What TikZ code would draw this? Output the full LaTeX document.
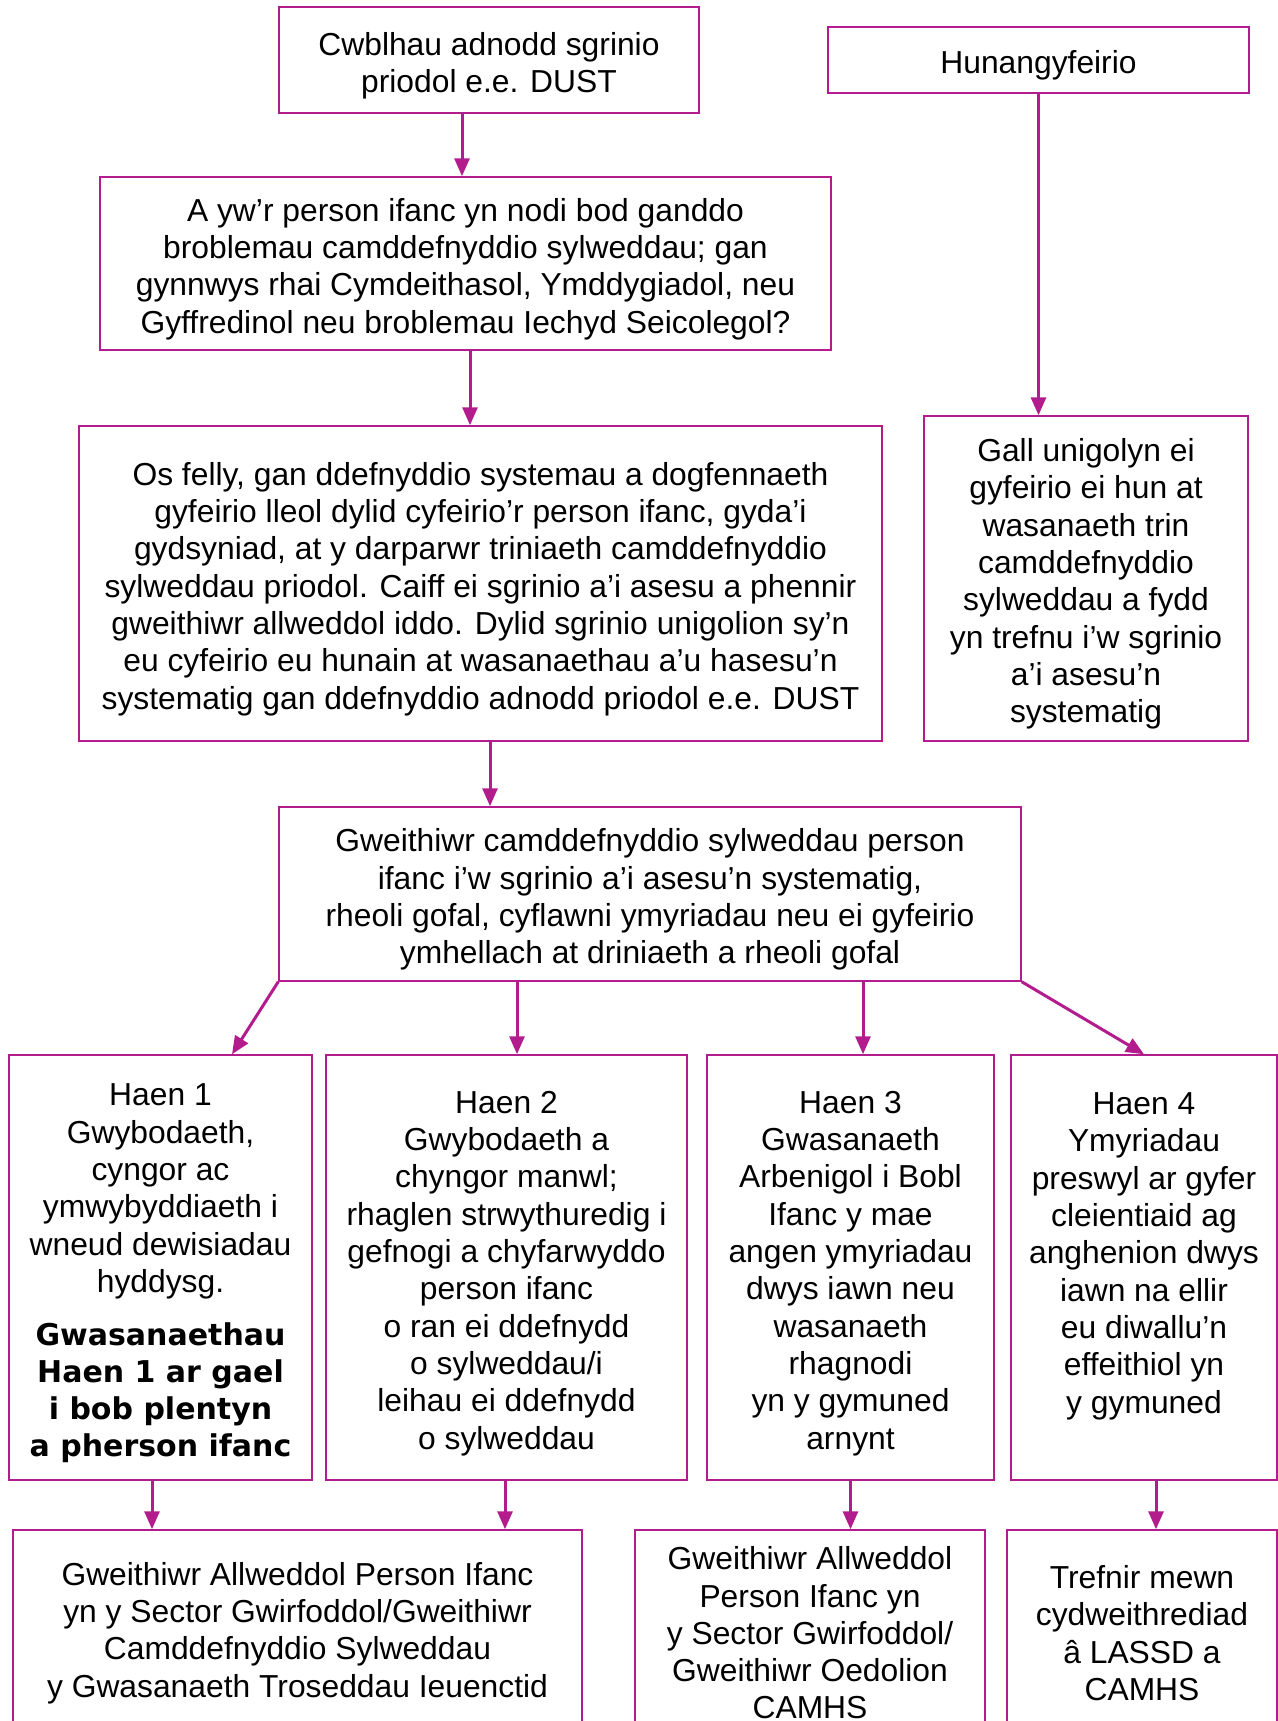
\documentclass[tikz,border=0pt]{standalone}
\usepackage{fontspec}
\setmainfont{Liberation Sans}
\newfontfamily\heavyfont{DejaVu Sans}
\newcommand{\heavy}[1]{{\heavyfont\bfseries\fontsize{15}{18.65}\selectfont #1}}
\newcommand{\topstrut}[1][17pt]{\rule{0pt}{#1}}
\usetikzlibrary{arrows.meta}

\definecolor{haenpink}{RGB}{178,28,140}

\tikzset{
  box/.style={draw=haenpink, line width=.75pt, align=center, inner sep=0pt,
    font=\fontsize{15.9}{18.65}\selectfont},
  arr/.style={draw=haenpink, line width=1.5pt, -{Triangle[length=9pt,width=7.5pt]}}
}

\begin{document}
\begin{tikzpicture}[x=.5pt,y=-.5pt]

\useasboundingbox (0,0) rectangle (1278,1721);
\clip (0,0) rectangle (1278,1721);

% top row
\node[box, minimum width=210pt, minimum height=53pt] (cwbl) at (489,60)
  {\topstrut Cwblhau adnodd sgrinio\\ priodol e.e. DUST};
\node[box, minimum width=210.5pt, minimum height=33pt] (hunan) at (1038.5,60)
  {\topstrut Hunangyfeirio};

% question
\node[box, minimum width=365.5pt, minimum height=86.5pt] (ayw) at (465.5,263.5)
  {\topstrut A yw’r person ifanc yn nodi bod ganddo\\ broblemau camddefnyddio sylweddau; gan\\
   gynnwys rhai Cymdeithasol, Ymddygiadol, neu\\ Gyffredinol neu broblemau Iechyd Seicolegol?};

% referral
\node[box, minimum width=401.5pt, minimum height=157.5pt] (osfelly) at (480.5,583.5)
  {\topstrut Os felly, gan ddefnyddio systemau a dogfennaeth\\ gyfeirio lleol dylid cyfeirio’r person ifanc, gyda’i\\
   gydsyniad, at y darparwr triniaeth camddefnyddio\\ sylweddau priodol. Caiff ei sgrinio a’i asesu a phennir\\
   gweithiwr allweddol iddo. Dylid sgrinio unigolion sy’n\\ eu cyfeirio eu hunain at wasanaethau a’u hasesu’n\\
   systematig gan ddefnyddio adnodd priodol e.e. DUST};
\node[box, minimum width=162pt, minimum height=162.5pt] (gall) at (1086,578.5)
  {\topstrut Gall unigolyn ei\\ gyfeirio ei hun at\\ wasanaeth trin\\ camddefnyddio\\ sylweddau a fydd\\
   yn trefnu i’w sgrinio\\ a’i asesu’n\\ systematig};

% worker
\node[box, minimum width=371pt, minimum height=87pt] (gweith) at (650,894)
  {\topstrut Gweithiwr camddefnyddio sylweddau person\\ ifanc i’w sgrinio a’i asesu’n systematig,\\
   rheoli gofal, cyflawni ymyriadau neu ei gyfeirio\\ ymhellach at driniaeth a rheoli gofal};

% tiers
\node[box, minimum width=151.5pt, minimum height=212.5pt] (haen1) at (160.5,1267.5)
  {\topstrut Haen 1\\ Gwybodaeth,\\ cyngor ac\\ ymwybyddiaeth i\\ wneud dewisiadau\\ hyddysg.\\[7.7pt]
   \heavy{Gwasanaethau}\\ \heavy{Haen 1 ar gael}\\ \heavy{i bob plentyn}\\ \heavy{a pherson ifanc}};
\node[box, minimum width=180.5pt, minimum height=212.5pt] (haen2) at (506.5,1267.5)
  {\topstrut Haen 2\\ Gwybodaeth a\\ chyngor manwl;\\ rhaglen strwythuredig i\\ gefnogi a chyfarwyddo\\
   person ifanc\\ o ran ei ddefnydd\\ o sylweddau/i\\ leihau ei ddefnydd\\ o sylweddau};
\node[box, minimum width=143.5pt, minimum height=212.5pt] (haen3) at (850.5,1267.5)
  {\topstrut Haen 3\\ Gwasanaeth\\ Arbenigol i Bobl\\ Ifanc y mae\\ angen ymyriadau\\ dwys iawn neu\\
   wasanaeth\\ rhagnodi\\ yn y gymuned\\ arnynt};
\node[box, minimum width=133pt, minimum height=212.5pt] (haen4) at (1144,1267.5)
  {\topstrut[15pt]Haen 4\\ Ymyriadau\\ preswyl ar gyfer\\ cleientiaid ag\\ anghenion dwys\\ iawn na ellir\\
   eu diwallu’n\\ effeithiol yn\\ y gymuned\\ \mbox{}};

% key workers
\node[box, minimum width=284.5pt, minimum height=103pt] (gwirf) at (297.5,1633)
  {Gweithiwr Allweddol Person Ifanc\\ yn y Sector Gwirfoddol/Gweithiwr\\
   Camddefnyddio Sylweddau\\ y Gwasanaeth Troseddau Ieuenctid};
\node[box, minimum width=175pt, minimum height=103pt] (oedol) at (810,1633)
  {Gweithiwr Allweddol\\ Person Ifanc yn\\ y Sector Gwirfoddol/\\ Gweithiwr Oedolion\\ CAMHS};
\node[box, minimum width=135pt, minimum height=103pt] (lassd) at (1142,1633)
  {Trefnir mewn\\ cydweithrediad\\ â LASSD a\\ CAMHS};

% arrows
\draw[arr] ([xshift=-13.5pt]cwbl.south) -- ([xshift=-13.5pt]cwbl.south |- ayw.north);
\draw[arr] ([xshift=2.25pt]ayw.south) -- ([xshift=2.25pt]ayw.south |- osfelly.north);
\draw[arr] (hunan.south) -- (hunan.south |- gall.north);
\draw[arr] ([xshift=4.75pt]osfelly.south) -- ([xshift=4.75pt]osfelly.south |- gweith.north);

\draw[arr] (gweith.south west) -- ([xshift=35.75pt]haen1.north);
\draw[arr] ([xshift=5.25pt]haen2.north |- gweith.south) -- ([xshift=5.25pt]haen2.north);
\draw[arr] ([xshift=6.25pt]haen3.north |- gweith.south) -- ([xshift=6.25pt]haen3.north);
\draw[arr] (gweith.south east) -- (haen4.north);

\draw[arr] ([xshift=-4.25pt]haen1.south) -- ([xshift=-4.25pt]haen1.south |- gwirf.north);
\draw[arr] ([xshift=-.75pt]haen2.south) -- ([xshift=-.75pt]haen2.south |- gwirf.north);
\draw[arr] (haen3.south) -- (haen3.south |- oedol.north);
\draw[arr] ([xshift=6pt]haen4.south) -- ([xshift=6pt]haen4.south |- lassd.north);

\end{tikzpicture}
\end{document}
